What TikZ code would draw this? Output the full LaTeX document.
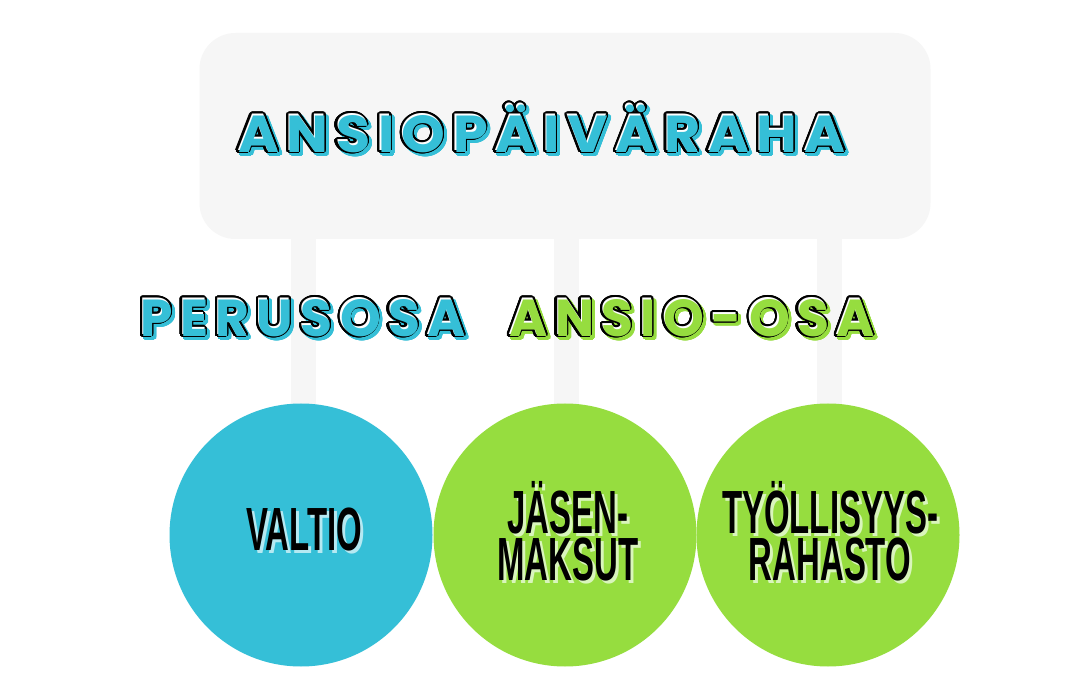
\documentclass[tikz,border=0pt]{standalone}
\usepackage{fontspec}
\usepackage{contour}
\usetikzlibrary{calc}
\newfontfamily\hfont{Poppins}[LetterSpace=13.5]
\newfontfamily\hfontb{Poppins}[LetterSpace=14]
\newfontfamily\cfont{Liberation Sans}
\definecolor{cy}{HTML}{35BFD7}
\definecolor{gr}{HTML}{96DD3F}
\definecolor{bx}{HTML}{F6F6F6}
\definecolor{cyl}{HTML}{B5E9F2}
\definecolor{grl}{HTML}{D9F5BC}
\contourlength{2.1pt}
\contournumber{32}
\tikzset{
  box/.style={fill=bx, rounded corners=36pt, minimum width=731pt, minimum height=206pt, inner sep=0pt},
  bar/.style={draw=bx, line width=25pt},
  circ/.style={circle, minimum size=263pt, inner sep=0pt},
  htext/.style={font=\hfont\bfseries\fontsize{52}{52}\selectfont, inner sep=0pt, anchor=base, xscale=1.07, transform shape},
  htextb/.style={font=\hfontb\bfseries\fontsize{52}{52}\selectfont, inner sep=0pt, anchor=base, xscale=1.0, transform shape},
  ctext/.style={font=\cfont\bfseries\fontsize{61}{47}\selectfont, inner sep=0pt, align=center, xscale=0.54, transform shape},
}
\begin{document}
\begin{tikzpicture}[x=1pt,y=-1pt]
\useasboundingbox (0,0) rectangle (1080,700);
\fill[white] (0,0) rectangle (1080,700);
\node[box] (top) at (565,136) {};
\node[circ] (c1) at (301,535) {};
\node[circ] (c2) at (565,535) {};
\node[circ] (c3) at (828,535) {};
\draw[bar] ($(top.south -| c1)+(2,-5)$) -- ($(c1.north)+(2,10)$);
\draw[bar] ($(top.south -| c2)+(1,-5)$) -- ($(c2.north)+(1,10)$);
\draw[bar] ($(top.south -| c3)+(1,-5)$) -- ($(c3.north)+(1,10)$);
\node[circ, fill=cy] (c1b) at (c1) {};
\node[circ, fill=gr] (c2b) at (c2) {};
\node[circ, fill=gr] (c3b) at (c3) {};
% header texts: shadow, outline with white face, inset colour face
\node[htext] (hs) at (544,154) {\contour{cy}{\textcolor{cy}{ANSIOPÄIVÄRAHA}}};
\node[htext] (h) at (541,151) {\contour{black}{\textcolor{white}{ANSIOPÄIVÄRAHA}}};
\node[htext, text=cy] (hf) at (542.2,152.2) {ANSIOPÄIVÄRAHA};
\node[htextb] (ps) at (305,338) {\contour{cy}{\textcolor{cy}{PERUSOSA}}};
\node[htextb] (p) at (302,335) {\contour{black}{\textcolor{white}{PERUSOSA}}};
\node[htextb, text=cy] (pf) at (303.2,336.2) {PERUSOSA};
\node[htextb] (as) at (694,338) {\contour{gr}{\textcolor{gr}{ANSIO-OSA}}};
\node[htextb] (a) at (691,335) {\contour{black}{\textcolor{white}{ANSIO-OSA}}};
\node[htextb, text=gr] (af) at (692.2,336.2) {ANSIO-OSA};
% circle texts
\node[ctext, text=cyl] (t1s) at ($(c1)+(6,-2)$) {VALTIO};
\node[ctext] (t1) at ($(c1)+(3,-5)$) {VALTIO};
\node[ctext, text=grl] (t2s) at ($(c2)+(6,-1)$) {JÄSEN-\\MAKSUT};
\node[ctext] (t2) at ($(c2)+(3,-4)$) {JÄSEN-\\MAKSUT};
\node[ctext, text=grl] (t3s) at ($(c3)+(5,-1)$) {TYÖLLISYYS-\\RAHASTO};
\node[ctext] (t3) at ($(c3)+(2,-4)$) {TYÖLLISYYS-\\RAHASTO};
\end{tikzpicture}
\end{document}
